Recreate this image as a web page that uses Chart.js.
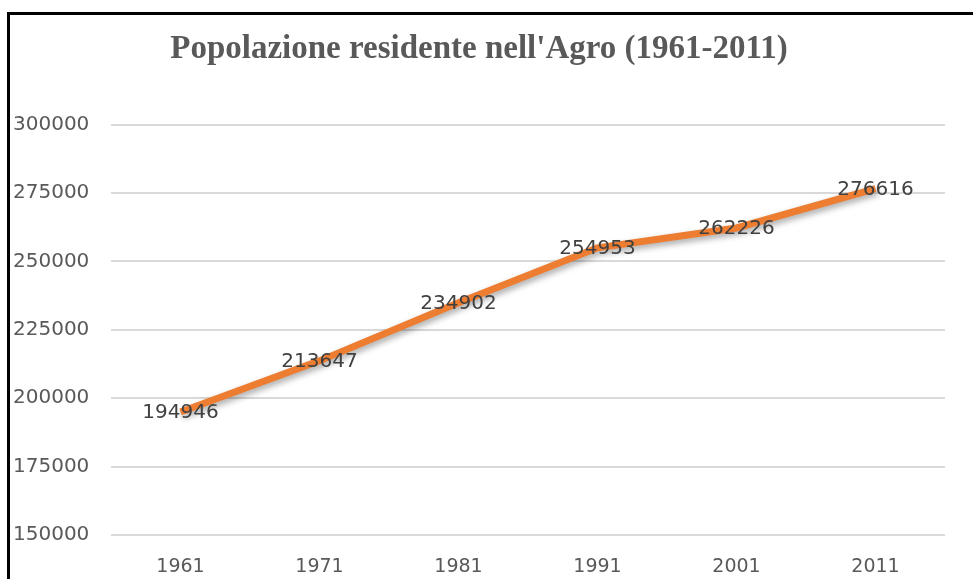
<!DOCTYPE html>
<html>
<head>
<meta charset="utf-8">
<script src="https://cdn.jsdelivr.net/npm/chart.js@4"></script>
<style>
  html, body { margin: 0; padding: 0; background: #fff; }
  #wrap { position: relative; width: 973px; height: 579px; }
</style>
</head>
<body>
<div id="wrap"><canvas id="popChart" width="973" height="579"></canvas></div>
<script>
const years = ["1961", "1971", "1981", "1991", "2001", "2011"];
const population = [194946, 213647, 234902, 254953, 262226, 276616];
const yTicks = [150000, 175000, 200000, 225000, 250000, 275000, 300000];

// labels centered on each point, on top of the line
const pointLabels = {
  id: "pointLabels",
  afterDatasetsDraw(chart) {
    const ctx = chart.ctx;
    const meta = chart.getDatasetMeta(0);
    ctx.save();
    ctx.font = "20px 'DejaVu Sans'";
    ctx.fillStyle = "#404040";
    ctx.textAlign = "center";
    ctx.textBaseline = "middle";
    meta.data.forEach((pt, i) => {
      ctx.fillText(String(population[i]), pt.x, pt.y + 1);
    });
    ctx.restore();
  },
};

// soft shadow under the orange line
const lineShadow = {
  id: "lineShadow",
  beforeDatasetDraw(chart) {
    const ctx = chart.ctx;
    ctx.save();
    ctx.shadowColor = "rgba(0,0,0,0.35)";
    ctx.shadowBlur = 6;
    ctx.shadowOffsetX = 2;
    ctx.shadowOffsetY = 3;
  },
  afterDatasetDraw(chart) {
    chart.ctx.restore();
  },
};

// black frame on the left and top edge
const frame = {
  id: "frame",
  afterDraw(chart) {
    const ctx = chart.ctx;
    ctx.save();
    ctx.fillStyle = "#000";
    ctx.fillRect(7, 12, 3, 579);
    ctx.fillRect(7, 12, 966, 3);
    ctx.restore();
  },
};

new Chart(document.getElementById("popChart"), {
  type: "line",
  data: {
    labels: years,
    datasets: [
      {
        label: "Popolazione",
        data: population,
        borderColor: "#ED7D31",
        borderWidth: 7,
        pointRadius: 0,
        pointHoverRadius: 0,
        tension: 0,
        fill: false,
      },
    ],
  },
  options: {
    responsive: false,
    animation: false,
    layout: { padding: { left: 13, right: 28, top: 0, bottom: 4 } },
    plugins: {
      legend: { display: false },
      tooltip: { enabled: false },
      title: {
        display: true,
        text: "Popolazione residente nell'Agro (1961-2011)",
        color: "#595959",
        font: { family: "'Liberation Serif'", size: 33, weight: "bold" },
        padding: { top: 30, bottom: 55 },
      },
    },
    scales: {
      x: {
        offset: true,
        grid: { display: false, drawTicks: false },
        border: { display: false },
        afterFit(scale) {
          scale.height = 40;
        },
        ticks: {
          color: "#595959",
          font: { family: "'DejaVu Sans'", size: 19 },
          padding: 21,
          maxRotation: 0,
        },
      },
      y: {
        min: 150000,
        max: 300000,
        afterBuildTicks(scale) {
          scale.ticks = yTicks.map((v) => ({ value: v }));
        },
        afterFit(scale) {
          scale.width = 98;
        },
        grid: { color: "#d9d9d9", lineWidth: 2, drawTicks: false },
        border: { display: false },
        ticks: {
          color: "#595959",
          font: { family: "'DejaVu Sans'", size: 20 },
          crossAlign: "far",
          padding: 22,
          callback: (v) => String(v),
        },
      },
    },
  },
  plugins: [pointLabels, lineShadow, frame],
});
</script>
</body>
</html>
